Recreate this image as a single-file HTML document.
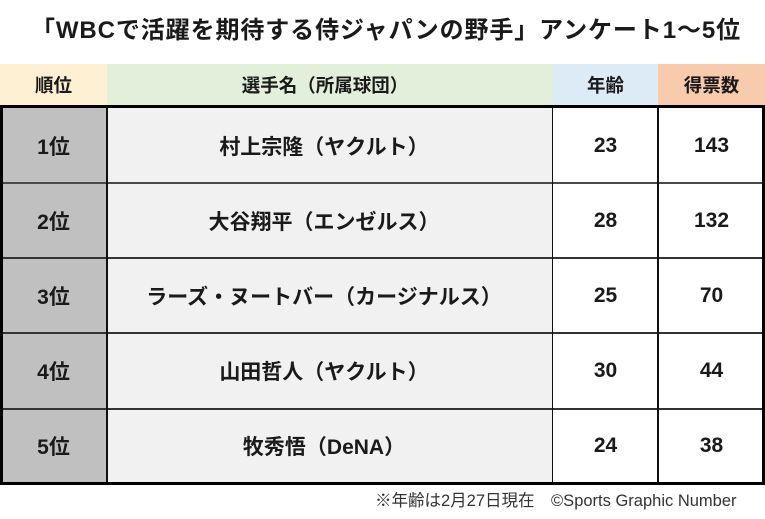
<!DOCTYPE html>
<html><head><meta charset="utf-8">
<style>
html,body{margin:0;padding:0;background:#fff;}
body{width:765px;height:519px;position:relative;overflow:hidden;font-family:"Liberation Sans","Noto Sans CJK JP",sans-serif;color:#1a1a1a;}
.abs{position:absolute;}
.title{left:0;width:772px;top:13px;height:36px;line-height:36px;text-align:center;font-size:24px;font-weight:bold;letter-spacing:0.9px;white-space:nowrap;color:#1a1a1a;}
.cell{position:absolute;display:flex;align-items:center;justify-content:center;font-weight:bold;white-space:nowrap;}
.h{top:64px;height:41px;font-size:18.5px;}
.b{font-size:21px;}
.line{position:absolute;}
.foot{left:375px;top:487px;font-size:16.5px;color:#333;white-space:nowrap;}
</style></head><body>
<div class="abs title">「WBCで活躍を期待する侍ジャパンの野手」アンケート1〜5位</div>

<!-- header -->
<div class="cell h" style="left:0;width:107px;background:#fdf0d3;">順位</div>
<div class="cell h" style="left:107px;width:446px;background:#e2efda;padding-right:10px;box-sizing:border-box;">選手名（所属球団）</div>
<div class="cell h" style="left:553px;width:105px;background:#ddebf7;">年齢</div>
<div class="cell h" style="left:658px;width:107px;background:#f8cbad;">得票数</div>

<!-- body backgrounds -->
<div class="abs" style="left:0;top:105px;width:107px;height:380px;background:#c0c0c0;"></div>
<div class="abs" style="left:107px;top:105px;width:446px;height:380px;background:#f1f1f1;"></div>
<div class="abs" style="left:553px;top:105px;width:212px;height:380px;background:#fff;"></div>

<!-- rows -->
<div class="cell b" style="left:0;width:107px;top:108px;height:75px;">1位</div>
<div class="cell b" style="left:107px;width:446px;top:108px;height:75px;padding-right:12px;box-sizing:border-box;">村上宗隆（ヤクルト）</div>
<div class="cell b" style="left:553px;width:105px;top:108px;height:75px;">23</div>
<div class="cell b" style="left:658px;width:107px;top:108px;height:75px;">143</div>

<div class="cell b" style="left:0;width:107px;top:183px;height:75px;">2位</div>
<div class="cell b" style="left:107px;width:446px;top:183px;height:75px;padding-right:12px;box-sizing:border-box;">大谷翔平（エンゼルス）</div>
<div class="cell b" style="left:553px;width:105px;top:183px;height:75px;">28</div>
<div class="cell b" style="left:658px;width:107px;top:183px;height:75px;">132</div>

<div class="cell b" style="left:0;width:107px;top:258px;height:75px;">3位</div>
<div class="cell b" style="left:107px;width:446px;top:258px;height:75px;padding-right:12px;box-sizing:border-box;">ラーズ・ヌートバー（カージナルス）</div>
<div class="cell b" style="left:553px;width:105px;top:258px;height:75px;">25</div>
<div class="cell b" style="left:658px;width:107px;top:258px;height:75px;">70</div>

<div class="cell b" style="left:0;width:107px;top:333px;height:76px;">4位</div>
<div class="cell b" style="left:107px;width:446px;top:333px;height:76px;padding-right:12px;box-sizing:border-box;">山田哲人（ヤクルト）</div>
<div class="cell b" style="left:553px;width:105px;top:333px;height:76px;">30</div>
<div class="cell b" style="left:658px;width:107px;top:333px;height:76px;">44</div>

<div class="cell b" style="left:0;width:107px;top:409px;height:74px;">5位</div>
<div class="cell b" style="left:107px;width:446px;top:409px;height:74px;padding-right:12px;box-sizing:border-box;">牧秀悟（DeNA）</div>
<div class="cell b" style="left:553px;width:105px;top:409px;height:74px;">24</div>
<div class="cell b" style="left:658px;width:107px;top:409px;height:74px;">38</div>

<!-- row dividers -->
<div class="line" style="left:0;width:765px;top:182px;height:2px;background:#4a4a4a;"></div>
<div class="line" style="left:0;width:765px;top:257px;height:2px;background:#333;"></div>
<div class="line" style="left:0;width:765px;top:332px;height:2px;background:#333;"></div>
<div class="line" style="left:0;width:765px;top:408px;height:2px;background:#333;"></div>

<!-- column dividers -->
<div class="line" style="left:106px;width:2px;top:105px;height:380px;background:#111;"></div>
<div class="line" style="left:552px;width:1px;top:105px;height:380px;background:#111;"></div>
<div class="line" style="left:657px;width:2px;top:105px;height:380px;background:#111;"></div>

<!-- outer border -->
<div class="line" style="left:0;width:765px;top:105px;height:3px;background:#000;"></div>
<div class="line" style="left:0;width:765px;top:482px;height:3px;background:#000;"></div>
<div class="line" style="left:0;width:3px;top:105px;height:380px;background:#000;"></div>
<div class="line" style="left:762px;width:3px;top:105px;height:380px;background:#000;"></div>

<div class="abs foot">※年齢は2月27日現在　©Sports Graphic Number</div>
</body></html>
